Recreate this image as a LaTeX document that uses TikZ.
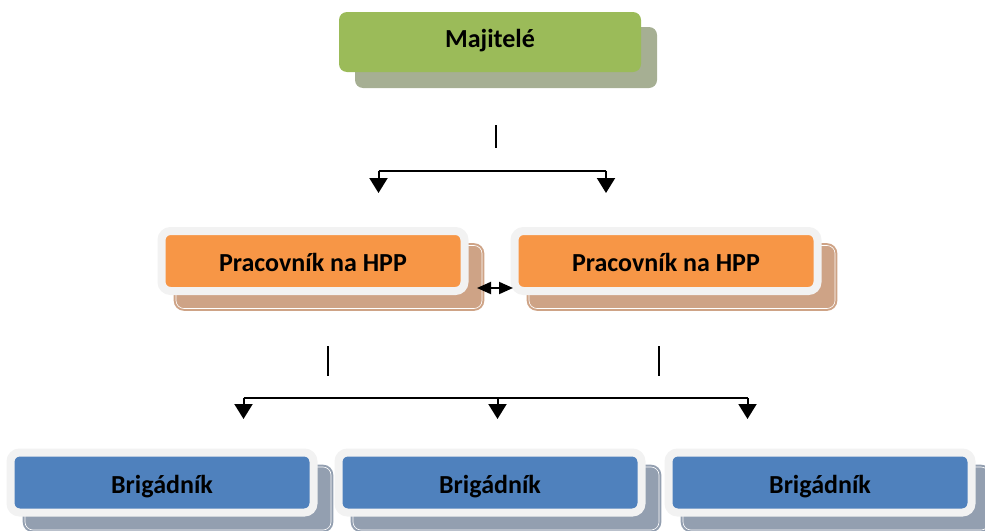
\documentclass[tikz,border=0pt]{standalone}
\usepackage{fontspec}
\setmainfont{Carlito}
\usetikzlibrary{arrows.meta}
\definecolor{greenbox}{HTML}{9BBB59}
\definecolor{greenshadow}{HTML}{A6AF93}
\definecolor{orangebox}{HTML}{F79646}
\definecolor{orangeshadow}{HTML}{CEA386}
\definecolor{bluebox}{HTML}{4F81BD}
\definecolor{blueshadow}{HTML}{939FB0}
\definecolor{rimgray}{HTML}{F2F2F2}
\begin{document}
\begin{tikzpicture}[x=1pt,y=-1pt,
  boxtext/.style={font=\fontsize{26}{30}\selectfont\bfseries, text=black},
  topbox/.style={boxtext, rounded corners=8pt, fill=greenbox, minimum width=302pt, minimum height=60pt, inner sep=0pt, text height=18pt, text depth=8pt},
  topshadow/.style={rounded corners=8pt, fill=greenshadow, minimum width=302pt, minimum height=61pt, inner sep=0pt},
  mainbox/.style={boxtext, rounded corners=9pt, draw=rimgray, line width=8pt, minimum width=303pt, minimum height=60pt, inner sep=0pt, text height=23pt, text depth=2pt},
  shadowbox/.style={rounded corners=8pt, draw=#1, fill=#1, line width=2pt, double=white, double distance=0.6pt, minimum width=306pt, minimum height=63pt, inner sep=0pt},
  conn/.style={line width=2pt, black},
  arr/.style={conn, -{Triangle[width=18pt,length=15pt]}},
  dblarr/.style={conn, {Triangle[width=12pt,length=14pt]}-{Triangle[width=12pt,length=14pt]}}
]
\useasboundingbox (0,0) rectangle (985,530);

% top
\node[topshadow] (ms) at (506,57.5) {};
\node[topbox] (maj) at (490,42) {Majitelé};

% middle row
\node[shadowbox=orangeshadow] (psL) at (329,277) {};
\node[mainbox, fill=orangebox] (pL) at (313,261) {Pracovník na HPP};
\node[shadowbox=orangeshadow] (psR) at (682,277) {};
\node[mainbox, fill=orangebox] (pR) at (666,261) {Pracovník na HPP};

% bottom row
\node[shadowbox=blueshadow] (bsL) at (178,498.5) {};
\node[mainbox, fill=bluebox] (bL) at (162,482.5) {Brigádník};
\node[shadowbox=blueshadow] (bsM) at (506,498.5) {};
\node[mainbox, fill=bluebox] (bM) at (490,482.5) {Brigádník};
\node[shadowbox=blueshadow] (bsR) at (836,498.5) {};
\node[mainbox, fill=bluebox] (bR) at (820,482.5) {Brigádník};

% top connectors
\coordinate (t1) at (496,125);
\coordinate (t2) at (496,148);
\coordinate (hL) at (378.5,170.5);
\coordinate (hR) at (606,170.5);
\coordinate (aL) at (378.5,193);
\coordinate (aR) at (606,193);
\draw[conn] (t1) -- (t2);
\draw[conn] (hL) -- (hR);
\draw[arr] (hL) -- (aL);
\draw[arr] (hR) -- (aR);

% double arrow between middle boxes
\coordinate (d1) at (477,288);
\coordinate (d2) at (513,288);
\draw[dblarr] (d1) -- (d2);

% bottom connectors
\coordinate (v1a) at (328,346);
\coordinate (v1b) at (328,376);
\coordinate (v2a) at (659,346);
\coordinate (v2b) at (659,376);
\draw[conn] (v1a) -- (v1b);
\draw[conn] (v2a) -- (v2b);
\coordinate (gL) at (243.5,398);
\coordinate (gM) at (497.5,398);
\coordinate (gR) at (747.5,398);
\coordinate (bAL) at (243.5,419);
\coordinate (bAM) at (497.5,419);
\coordinate (bAR) at (747.5,419);
\draw[conn] (gL) -- (gR);
\draw[arr] (gL) -- (bAL);
\draw[arr] (gM) -- (bAM);
\draw[arr] (gR) -- (bAR);
\end{tikzpicture}
\end{document}
